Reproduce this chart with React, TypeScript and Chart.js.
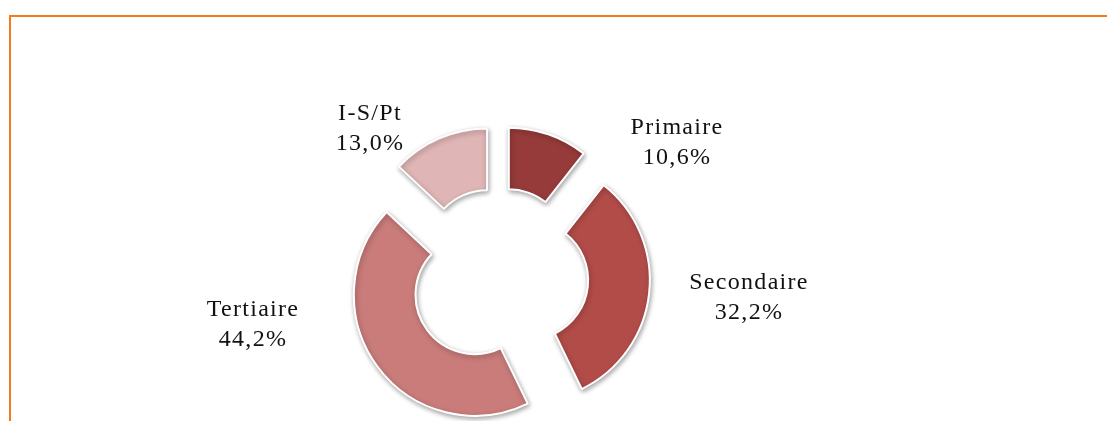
import React, { useEffect, useRef } from 'react';
import { Chart, registerables, ArcElement } from 'chart.js';

Chart.register(...registerables);

// ---- data ----
const categories: string[] = ['Primaire', 'Secondaire', 'Tertiaire', 'I-S/Pt'];
const shares: number[] = [10.6, 32.2, 44.2, 13.0];

// ---- style ----
const sliceColors: string[] = ['#963B3A', '#B24C49', '#C97C7A', '#DFB5B5'];
const EXPLODE = 30; // px each slice is pulled out along its bisector
// label anchor (text centre x, first baseline y) relative to the chart centre
const labelOffsets: [number, number][] = [
  [178, -143],
  [250, 12],
  [-246, 39],
  [-129, -157],
];
const LINE_GAP = 29.5;
const FRAME_COLOR = '#F07C1F';

const fmtPct = (v: number) => v.toFixed(1).replace('.', ',') + '%';

// Exploded slices drawn with a pure translation (no radius change) and a soft shadow
const proto: any = ArcElement.prototype;
if (!proto.__explodedPatch) {
  const origDraw = proto.draw;
  proto.draw = function (ctx: CanvasRenderingContext2D) {
    const half = (this.startAngle + this.endAngle) / 2;
    ctx.save();
    ctx.translate(Math.cos(half) * EXPLODE, Math.sin(half) * EXPLODE);
    ctx.shadowColor = 'rgba(0,0,0,0.35)';
    ctx.shadowBlur = 5;
    ctx.shadowOffsetX = 1;
    ctx.shadowOffsetY = 2;
    origDraw.call(this, ctx);
    ctx.restore();
  };
  proto.__explodedPatch = true;
}

const labelPlugin = {
  id: 'sliceLabels',
  afterDatasetsDraw(chart: any) {
    const meta = chart.getDatasetMeta(0);
    const ctx: CanvasRenderingContext2D = chart.ctx;
    ctx.save();
    ctx.font = '24px "Liberation Serif", "Times New Roman", serif';
    ctx.fillStyle = '#111111';
    ctx.textAlign = 'center';
    ctx.textBaseline = 'alphabetic';
    (ctx as any).letterSpacing = '1.3px';
    meta.data.forEach((arc: any, i: number) => {
      const [dx, dy] = labelOffsets[i];
      const x = arc.x + dx;
      const y = arc.y + dy;
      ctx.fillText(categories[i], x, y);
      ctx.fillText(fmtPct(shares[i]), x, y + LINE_GAP);
    });
    ctx.restore();
  },
};

export default function App() {
  const canvasRef = useRef<HTMLCanvasElement | null>(null);

  useEffect(() => {
    if (!canvasRef.current) return;
    const chart = new Chart(canvasRef.current, {
      type: 'doughnut',
      data: {
        labels: categories,
        datasets: [
          {
            data: shares,
            backgroundColor: sliceColors,
            borderColor: '#ffffff',
            borderWidth: 2,
          },
        ],
      },
      options: {
        responsive: false,
        animation: false,
        events: [],
        radius: 121,
        cutout: '49%',
        layout: { padding: { left: 0, right: 109, top: 133, bottom: 0 } },
        plugins: {
          legend: { display: false },
          tooltip: { enabled: false },
        },
      } as any,
      plugins: [labelPlugin],
    });
    return () => chart.destroy();
  }, []);

  return (
    <div
      style={{
        position: 'fixed',
        left: 0,
        top: 0,
        width: 1107,
        height: 421,
        overflow: 'hidden',
        background: '#ffffff',
      }}
    >
      <div
        style={{
          position: 'absolute',
          left: 9,
          top: 15,
          width: 2000,
          height: 1000,
          border: `2px solid ${FRAME_COLOR}`,
          boxSizing: 'border-box',
        }}
      />
      <canvas
        ref={canvasRef}
        width={1107}
        height={421}
        style={{ position: 'absolute', left: 0, top: 0, width: 1107, height: 421 }}
      />
    </div>
  );
}
